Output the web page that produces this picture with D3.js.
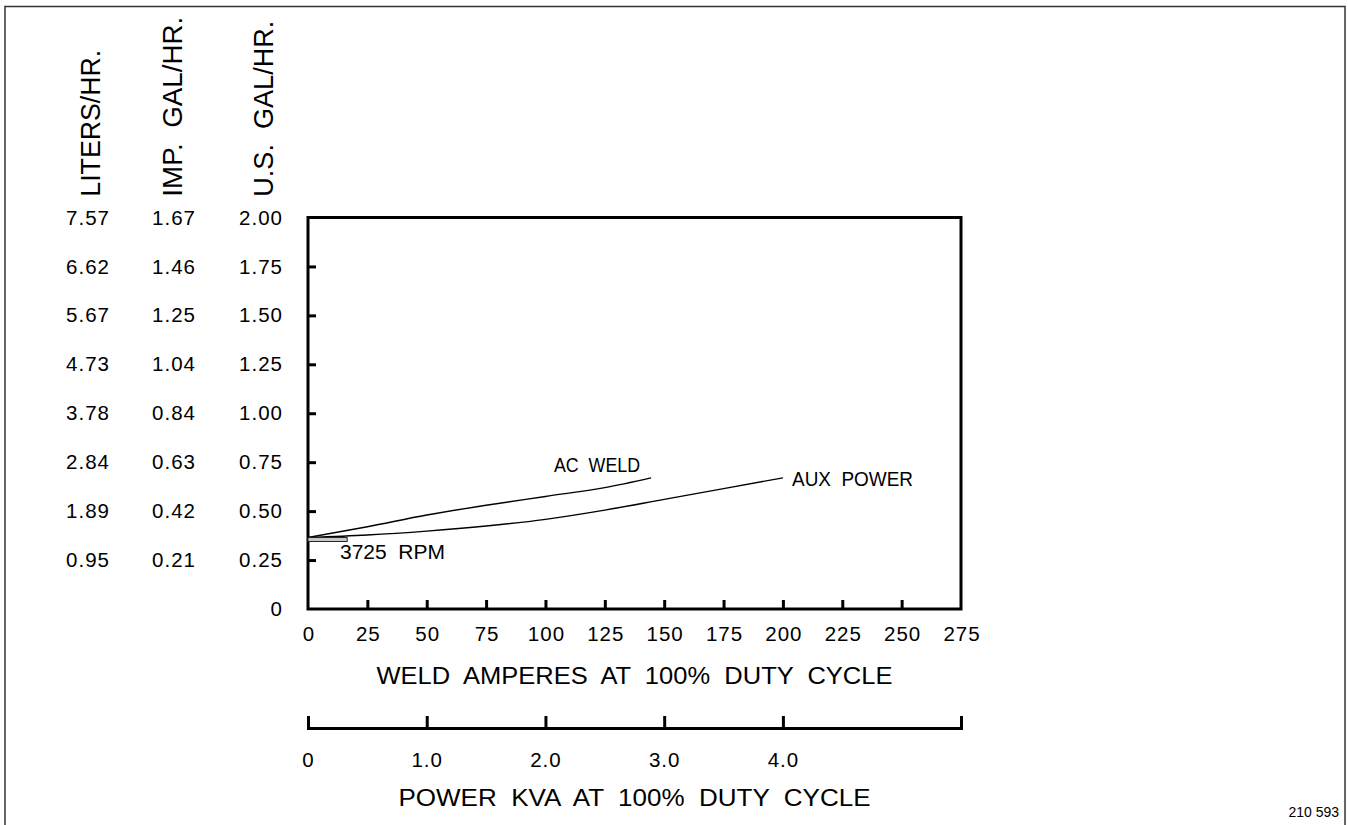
<!DOCTYPE html>
<html><head><meta charset="utf-8">
<script src="https://cdn.jsdelivr.net/npm/d3@7"></script>
<style>
html,body{margin:0;padding:0;background:#fff;}
svg{display:block;}
text{font-family:"Liberation Sans",Arial,sans-serif;fill:#000;white-space:pre;}
</style></head><body>
<svg id="chart" width="1348" height="825"></svg>
<script>
// ---- data ----
const usGalTicks   = [0, 0.25, 0.5, 0.75, 1, 1.25, 1.5, 1.75, 2];
const usGalLabels  = ["0", "0.25", "0.50", "0.75", "1.00", "1.25", "1.50", "1.75", "2.00"];
const literLabels  = ["", "0.95", "1.89", "2.84", "3.78", "4.73", "5.67", "6.62", "7.57"];
const impGalLabels = ["", "0.21", "0.42", "0.63", "0.84", "1.04", "1.25", "1.46", "1.67"];
const ampTicks     = [0, 25, 50, 75, 100, 125, 150, 175, 200, 225, 250, 275];
const kvaTicks     = [0, 1, 2, 3, 4];
const kvaLabels    = ["0", "1.0", "2.0", "3.0", "4.0"];
const acWeldAmps   = [0, 25, 50, 75, 100, 125, 144.5];
const acWeldGal    = [0.365, 0.42, 0.48, 0.53, 0.575, 0.62, 0.67];
const auxAmps      = [0, 25, 50, 75, 100, 125, 150, 175, 200];
const auxGal       = [0.365, 0.378, 0.398, 0.424, 0.458, 0.505, 0.56, 0.615, 0.67];
const rpmAmps      = [0, 16.5];
const rpmGal       = [0.345, 0.365];

// ---- layout ----
const svg = d3.select("#chart");
const L = 308, R = 961, T = 217.5, B = 609;
const FS = 20.5, LS = 1;
const x = d3.scaleLinear().domain([0, 275]).range([L, R]);
const y = d3.scaleLinear().domain([0, 2]).range([B, T]);
const kva = d3.scaleLinear().domain([0, 5.5]).range([L, R]);

// outer border
svg.append("rect").attr("x", 5).attr("y", 6.5).attr("width", 1340).attr("height", 840)
  .attr("fill", "none").attr("stroke", "#333").attr("stroke-width", 1.5);

function styleTickText(sel) {
  sel.attr("font-size", FS).attr("letter-spacing", LS)
    .attr("font-family", "Liberation Sans, Arial, sans-serif").attr("fill", "#000");
}

// y axis (US gal) with inward ticks
const yAxis = svg.append("g").attr("transform", `translate(${L},0)`)
  .call(d3.axisLeft(y).tickValues(usGalTicks).tickSizeInner(-8).tickSizeOuter(0).tickPadding(25)
    .tickFormat((d, i) => usGalLabels[i]));
yAxis.select(".domain").remove();
yAxis.selectAll(".tick line").attr("stroke", "#000").attr("stroke-width", 3)
  .filter(d => d === 0 || d === 2).remove();
styleTickText(yAxis.selectAll(".tick text"));

// Imperial gallons column
const impAxis = svg.append("g").attr("transform", `translate(196,0)`)
  .call(d3.axisLeft(y).tickValues(usGalTicks).tickSize(0).tickPadding(0)
    .tickFormat((d, i) => impGalLabels[i]));
impAxis.select(".domain").remove();
styleTickText(impAxis.selectAll(".tick text"));

// Liters column
const litAxis = svg.append("g").attr("transform", `translate(110,0)`)
  .call(d3.axisLeft(y).tickValues(usGalTicks).tickSize(0).tickPadding(0)
    .tickFormat((d, i) => literLabels[i]));
litAxis.select(".domain").remove();
styleTickText(litAxis.selectAll(".tick text"));

// x axis (amps) with inward ticks
const xAxis = svg.append("g").attr("transform", `translate(0,${B})`)
  .call(d3.axisBottom(x).tickValues(ampTicks).tickSizeInner(-9).tickSizeOuter(0).tickPadding(17.5));
xAxis.select(".domain").remove();
xAxis.selectAll(".tick line").attr("stroke", "#000").attr("stroke-width", 3)
  .filter(d => d === 0 || d === 275).remove();
styleTickText(xAxis.selectAll(".tick text").attr("dx", 0.5));

// plot frame
svg.append("rect").attr("x", L).attr("y", T).attr("width", R - L).attr("height", B - T)
  .attr("fill", "none").attr("stroke", "#000").attr("stroke-width", 3);

// KVA axis
const kAxis = svg.append("g").attr("transform", `translate(0,728)`)
  .call(d3.axisTop(kva).tickValues(kvaTicks.slice(1)).tickSizeInner(12).tickSizeOuter(12).tickFormat(""));
kAxis.select(".domain").attr("stroke", "#000").attr("stroke-width", 3).attr("fill", "none");
kAxis.selectAll(".tick line").attr("stroke", "#000").attr("stroke-width", 3);
svg.append("g").selectAll("text").data(kvaTicks).join("text")
  .attr("x", d => kva(d) + 0.5).attr("y", 766.5).attr("text-anchor", "middle")
  .attr("font-size", FS).attr("letter-spacing", LS)
  .text((d, i) => kvaLabels[i]);

// curves
const line = d3.line().x(d => x(d[0])).y(d => y(d[1])).curve(d3.curveMonotoneX);
svg.append("path").datum(acWeldAmps.map((a, i) => [a, acWeldGal[i]]))
  .attr("d", line).attr("fill", "none").attr("stroke", "#000").attr("stroke-width", 1.4);
svg.append("path").datum(auxAmps.map((a, i) => [a, auxGal[i]]))
  .attr("d", line).attr("fill", "none").attr("stroke", "#000").attr("stroke-width", 1.4);

// RPM band
svg.append("rect").attr("x", x(rpmAmps[0])).attr("y", y(rpmGal[1]))
  .attr("width", x(rpmAmps[1]) - x(rpmAmps[0])).attr("height", y(rpmGal[0]) - y(rpmGal[1]))
  .attr("fill", "#ccc").attr("stroke", "#222").attr("stroke-width", 1);

// annotations
function label(txt, xx, yy, len, size) {
  svg.append("text").attr("x", xx).attr("y", yy).attr("font-size", size)
    .attr("textLength", len).attr("lengthAdjust", "spacingAndGlyphs").text(txt);
}
label("AC  WELD", 554, 471.7, 86, 19.5);
label("AUX  POWER", 792, 486, 121, 19.5);
label("3725  RPM", 340, 559.3, 105, 19.5);

// axis titles
svg.append("text").attr("x", (L + R) / 2).attr("y", 684.3).attr("text-anchor", "middle")
  .attr("font-size", 24.5).attr("textLength", 516).attr("lengthAdjust", "spacingAndGlyphs")
  .text("WELD  AMPERES  AT  100%  DUTY  CYCLE");
svg.append("text").attr("x", (L + R) / 2).attr("y", 805.5).attr("text-anchor", "middle")
  .attr("font-size", 24.5).attr("textLength", 472).attr("lengthAdjust", "spacingAndGlyphs")
  .text("POWER  KVA  AT  100%  DUTY  CYCLE");

// vertical unit titles
function vtitle(txt, bx, by, len) {
  svg.append("text").attr("transform", `translate(${bx},${by}) rotate(-90)`)
    .attr("font-size", 28).attr("textLength", len).attr("lengthAdjust", "spacingAndGlyphs").text(txt);
}
vtitle("LITERS/HR.", 100, 196.7, 147);
vtitle("IMP.  GAL/HR.", 181.7, 196.7, 180);
vtitle("U.S.  GAL/HR.", 272.7, 196.7, 176);

// figure id
svg.append("text").attr("x", 1339).attr("y", 817).attr("text-anchor", "end")
  .attr("font-size", 14).attr("font-family", "Liberation Sans, Arial, sans-serif").text("210 593");
</script>
</body></html>
